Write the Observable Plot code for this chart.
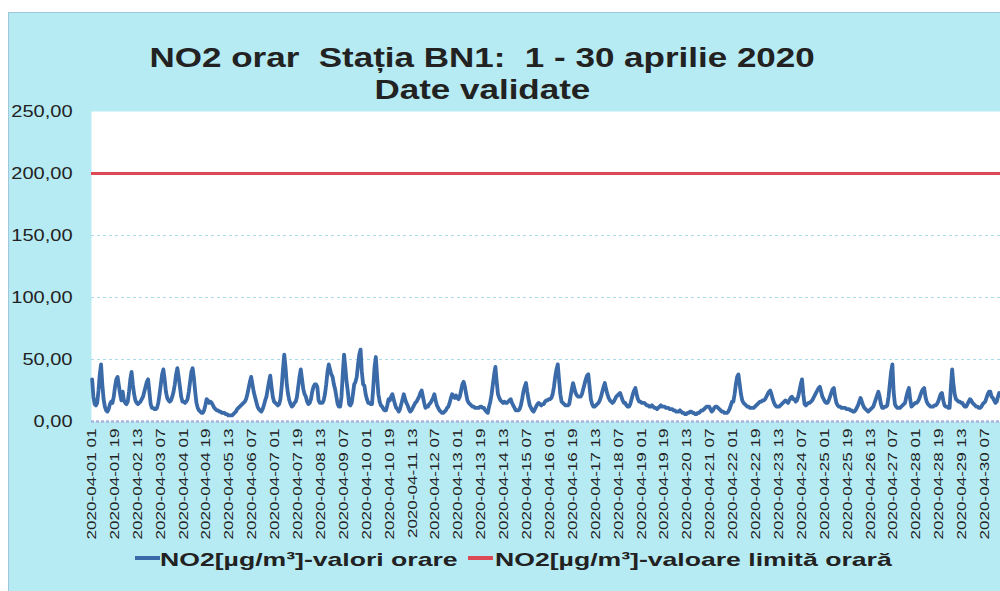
<!DOCTYPE html>
<html><head><meta charset="utf-8">
<script src="https://cdn.jsdelivr.net/npm/d3@7"></script>
<script src="https://cdn.jsdelivr.net/npm/@observablehq/plot@0.6"></script>
<style>
html,body{margin:0;padding:0;background:#fff;}
body{width:1000px;height:591px;overflow:hidden;position:relative;font-family:"Liberation Sans",Arial,sans-serif;}
#panel{position:absolute;left:8px;top:12px;width:1010px;height:600px;background:#b7ebf3;border-left:1px solid #9fc7dc;border-top:1px solid #9fc7dc;}
.title{position:absolute;left:0;width:964px;text-align:center;font-weight:bold;font-size:28px;line-height:28px;color:#222;white-space:pre;}
.title span{display:inline-block;transform:scaleX(1.25);}
#chart{position:absolute;left:0;top:0;width:1020px;}
#chart svg{max-width:none !important;}
.leg{position:absolute;font-weight:bold;font-size:19px;line-height:19px;color:#222;white-space:pre;transform-origin:0 50%;transform:scaleX(1.4);}
.sw{position:absolute;height:4px;width:25px;}
</style></head><body>
<div id="panel"></div>
<div class="title" style="top:44px"><span id="t1"></span></div>
<div class="title" style="top:76px"><span id="t2"></span></div>
<div id="chart"></div>
<div id="legend"></div>
<script>
// ---- data ----
const titleLines = ["NO2 orar  Stația BN1:  1 - 30 aprilie 2020", "Date validate"];
const seriesNames = ["NO2[µg/m³]-valori orare", "NO2[µg/m³]-valoare limită orară"];
const seriesColors = ["#3a6aa8", "#dc4a55"];
const limitValue = 200;
const yTicks = [0, 50, 100, 150, 200, 250];
const xTickLabels = [
  "2020-04-01 01","2020-04-01 19","2020-04-02 13","2020-04-03 07","2020-04-04 01",
  "2020-04-04 19","2020-04-05 13","2020-04-06 07","2020-04-07 01","2020-04-07 19",
  "2020-04-08 13","2020-04-09 07","2020-04-10 01","2020-04-10 19","2020-04-11 13",
  "2020-04-12 07","2020-04-13 01","2020-04-13 19","2020-04-14 13","2020-04-15 07",
  "2020-04-16 01","2020-04-16 19","2020-04-17 13","2020-04-18 07","2020-04-19 01",
  "2020-04-19 19","2020-04-20 13","2020-04-21 07","2020-04-22 01","2020-04-22 19",
  "2020-04-23 13","2020-04-24 07","2020-04-25 01","2020-04-25 19","2020-04-26 13",
  "2020-04-27 07","2020-04-28 01","2020-04-28 19","2020-04-29 13","2020-04-30 07"
];
// hourly NO2 values (hours 01..24) for each day of April 2020
const no2Hourly = [
  [34,20,14,13,15,25,38,46,30,18,12,9,8,10,14,16,15,20,28,34,36,29,22,17],
  [24,17,15,14,16,24,34,40,30,22,17,15,14,15,16,18,20,24,28,32,34,24,14,11],
  [11,10,10,11,15,22,30,38,42,34,24,19,17,16,17,20,24,30,38,43,36,28,20,16],
  [16,15,16,18,24,32,40,43,35,24,15,11,9,8,7,7,9,13,18,17,15,16,15,13],
  [11,10,9,9,8,8,7,7,7,6,6,5,5,5,5,6,7,8,10,11,12,13,14,15],
  [16,18,22,27,32,36,30,24,20,16,12,10,9,8,10,13,17,20,26,32,37,28,20,16],
  [15,14,13,14,18,28,42,54,44,30,22,17,14,12,13,15,16,20,28,36,42,34,26,22],
  [20,16,14,15,18,24,28,30,30,28,17,15,15,15,17,22,30,40,46,42,38,36,30,26],
  [20,14,12,12,20,38,54,44,32,24,14,13,15,22,30,32,36,46,54,58,40,30,29,22],
  [18,15,15,14,14,28,44,52,36,22,16,13,12,10,9,9,13,18,17,20,22,18,14,11],
  [10,8,10,14,18,22,18,15,13,10,8,9,11,13,15,16,18,20,23,25,20,15,11,12],
  [12,14,15,17,19,22,17,13,11,9,8,7,7,8,9,11,12,15,19,22,20,19,21,19],
  [18,20,25,30,32,28,22,17,15,14,13,12,12,11,11,11,11,12,12,11,11,9,8,7],
  [12,16,22,30,38,44,32,22,19,17,16,15,16,15,15,16,17,18,15,13,11,9,9,9],
  [10,13,18,24,28,31,24,18,13,11,9,8,10,12,14,15,14,13,14,14,16,17,17,18],
  [18,19,22,28,36,42,46,34,22,16,15,14,13,13,13,14,20,26,31,27,23,21,20,20],
  [20,22,26,30,34,37,38,28,18,14,12,12,13,14,15,17,20,24,28,31,26,22,19,17],
  [16,15,16,18,20,21,22,23,20,17,15,15,13,12,12,14,18,22,25,27,22,18,16,16],
  [15,15,15,14,13,13,12,12,13,12,11,11,10,11,12,13,12,12,12,11,11,11,10,10],
  [10,9,9,8,8,8,9,8,7,7,6,6,7,7,8,8,7,7,6,6,7,7,8,9],
  [9,10,11,12,12,12,10,8,9,11,12,12,11,10,9,8,8,7,7,7,8,10,13,16],
  [16,22,30,36,38,30,22,17,15,14,13,12,12,11,11,11,11,12,13,14,15,16,16,17],
  [17,18,20,22,24,25,22,18,15,13,12,12,12,13,14,15,16,17,16,15,17,19,20,18],
  [18,16,17,20,25,30,34,22,14,13,14,15,15,16,17,19,21,23,25,27,28,24,20,18],
  [16,15,15,17,20,23,26,27,20,15,13,12,12,11,11,11,11,10,10,10,9,9,8,8],
  [9,11,13,16,19,16,13,11,10,9,8,9,10,11,12,15,18,21,24,20,14,11,11,12],
  [12,13,20,30,40,46,24,14,12,11,11,11,12,13,14,15,20,24,27,18,12,13,14,15],
  [15,16,18,21,24,26,27,20,16,14,13,12,12,12,13,13,14,16,19,22,23,17,13,12],
  [12,11,11,28,42,30,22,18,17,16,16,15,15,13,12,12,14,16,18,17,15,14,13,12],
  [12,11,11,12,14,15,16,19,22,24,24,20,19,17,15,16,20,23,22,20,18,16,15,14]
];

// ---- build ----
document.getElementById("t1").textContent = titleLines[0];
document.getElementById("t2").textContent = titleLines[1];

const rows = no2Hourly.flatMap((day, d) =>
  day.map((v, k) => ({date: new Date(Date.UTC(2020, 3, d + 1, k + 1)), value: v})));
const parse = d3.utcParse("%Y-%m-%d %H");
const fmt = d3.utcFormat("%Y-%m-%d %H");
const tickDates = xTickLabels.map(parse);
const xStart = new Date(Date.UTC(2020, 3, 1, 0, 30));
const xEnd = new Date(Date.UTC(2020, 4, 1, 0, 30));

const svg = Plot.plot({
  width: 1020, height: 560,
  marginLeft: 91, marginRight: 13, marginTop: 111, marginBottom: 139,
  style: {background: "transparent", fontFamily: "'Liberation Sans', Arial, sans-serif", fontSize: "12px", color: "#222", overflow: "visible", maxWidth: "none"},
  x: {type: "utc", domain: [xStart, xEnd], ticks: tickDates, tickFormat: fmt, tickRotate: -90, tickSize: 0, tickPadding: 7, label: null},
  y: {domain: [0, 250], ticks: yTicks, tickFormat: v => d3.format(".2f")(v).replace(".", ","), tickSize: 0, tickPadding: 19, label: null},
  marks: [
    Plot.frame({fill: "white", stroke: "none"}),
    Plot.ruleY(yTicks.filter(t => t > 0 && t < 250 && t !== limitValue), {stroke: "#a9dcea", strokeWidth: 1, strokeDasharray: "3,3"}),
    Plot.ruleY([0], {stroke: "#aab4de", strokeWidth: 2.5, strokeDasharray: "3,2"}),
    Plot.ruleY([limitValue], {stroke: seriesColors[1], strokeWidth: 3}),
    Plot.line(rows, {x: "date", y: "value", stroke: seriesColors[0], strokeWidth: 3.8, strokeLinejoin: "round", strokeLinecap: "round"})
  ]
});
svg.style.maxWidth = "none";
svg.setAttribute("width", 1020);
document.getElementById("chart").append(svg);

function stretch(el, f) {
  const L = el.getComputedTextLength();
  el.setAttribute("textLength", (L * f).toFixed(1));
  el.setAttribute("lengthAdjust", "spacingAndGlyphs");
}
d3.select(svg).selectAll("text").each(function() {
  const t = this.textContent;
  if (/^2020-/.test(t)) { this.style.fontSize = "12px"; stretch(this, 1.42); }
  else if (/^\d+,\d\d$/.test(t)) { this.style.fontSize = "16px"; stretch(this, 1.25); }
});

// legend
const legendPos = [{sw: 135, tx: 160}, {sw: 468, tx: 495}];
const leg = document.getElementById("legend");
seriesNames.forEach((name, i) => {
  const sw = document.createElement("div");
  sw.className = "sw";
  sw.style.left = legendPos[i].sw + "px";
  sw.style.top = "556px";
  sw.style.background = seriesColors[i];
  leg.append(sw);
  const tx = document.createElement("div");
  tx.className = "leg";
  tx.style.left = legendPos[i].tx + "px";
  tx.style.top = "550px";
  tx.textContent = name;
  leg.append(tx);
});
</script>
</body></html>
